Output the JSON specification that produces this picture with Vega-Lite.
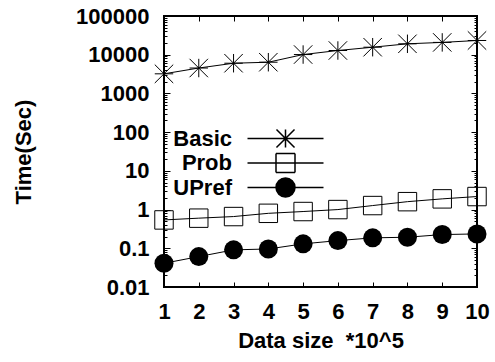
{
  "$schema": "https://vega.github.io/schema/vega-lite/v6.json",
  "width": 313,
  "height": 271,
  "autosize": {"type": "none"},
  "padding": {"left": 164, "top": 16, "right": 18, "bottom": 75},
  "config": {
    "view": {"stroke": "black", "strokeWidth": 2},
    "font": "Liberation Sans",
    "axis": {
      "grid": false,
      "domain": false,
      "labelFont": "Liberation Sans",
      "labelFontWeight": "bold",
      "labelFontSize": 22,
      "labelColor": "black",
      "titleFont": "Liberation Sans",
      "titleFontWeight": "bold",
      "titleFontSize": 22,
      "titleColor": "black",
      "tickColor": "black",
      "tickWidth": 1
    }
  },
  "datasets": {
    "runs": [
      {"size": 1, "method": "Basic", "time": 3210},
      {"size": 2, "method": "Basic", "time": 4530},
      {"size": 3, "method": "Basic", "time": 6030},
      {"size": 4, "method": "Basic", "time": 6400},
      {"size": 5, "method": "Basic", "time": 10100},
      {"size": 6, "method": "Basic", "time": 12840},
      {"size": 7, "method": "Basic", "time": 15630},
      {"size": 8, "method": "Basic", "time": 19130},
      {"size": 9, "method": "Basic", "time": 20800},
      {"size": 10, "method": "Basic", "time": 23300},
      {"size": 1, "method": "Prob", "time": 0.54},
      {"size": 2, "method": "Prob", "time": 0.6},
      {"size": 3, "method": "Prob", "time": 0.66},
      {"size": 4, "method": "Prob", "time": 0.8},
      {"size": 5, "method": "Prob", "time": 0.89},
      {"size": 6, "method": "Prob", "time": 1.0},
      {"size": 7, "method": "Prob", "time": 1.27},
      {"size": 8, "method": "Prob", "time": 1.6},
      {"size": 9, "method": "Prob", "time": 1.89},
      {"size": 10, "method": "Prob", "time": 2.17},
      {"size": 1, "method": "UPref", "time": 0.041},
      {"size": 2, "method": "UPref", "time": 0.061},
      {"size": 3, "method": "UPref", "time": 0.091},
      {"size": 4, "method": "UPref", "time": 0.096},
      {"size": 5, "method": "UPref", "time": 0.13},
      {"size": 6, "method": "UPref", "time": 0.158},
      {"size": 7, "method": "UPref", "time": 0.186},
      {"size": 8, "method": "UPref", "time": 0.193},
      {"size": 9, "method": "UPref", "time": 0.226},
      {"size": 10, "method": "UPref", "time": 0.235}
    ]
  },
  "data": {"name": "runs"},
  "layer": [
    {
      "mark": {"type": "line", "color": "black", "strokeWidth": 1},
      "encoding": {
        "x": {
          "field": "size", "type": "quantitative",
          "scale": {"domain": [1, 10], "nice": false, "zero": false},
          "axis": {
            "orient": "bottom", "values": [1, 2, 3, 4, 5, 6, 7, 8, 9, 10],
            "ticks": false, "labelPadding": 14, "labelFlush": false,
            "title": "Data size\u00a0 *10^5", "titleY": 60, "titleBaseline": "alphabetic"
          }
        },
        "y": {
          "field": "time", "type": "quantitative",
          "scale": {"type": "log", "domain": [0.01, 100000], "nice": false},
          "axis": {
            "orient": "left",
            "values": [0.01, 0.1, 1, 10, 100, 1000, 10000, 100000],
            "format": "~r", "ticks": false, "labelPadding": 15,
            "title": "Time(Sec)", "titleX": -134, "titleY": 135.5,
            "titleAngle": -90, "titleAlign": "center", "titleBaseline": "alphabetic"
          }
        },
        "detail": {"field": "method"}
      }
    },
    {
      "transform": [{"filter": "datum.method !== 'UPref'"}],
      "mark": {"type": "point", "filled": false, "stroke": "black", "strokeWidth": 1, "size": 340, "opacity": 1},
      "encoding": {
        "x": {
          "field": "size", "type": "quantitative",
          "axis": {"orient": "bottom", "values": [1, 2, 3, 4, 5, 6, 7, 8, 9, 10], "labelExpr": "''", "tickSize": -5, "title": null}
        },
        "y": {
          "field": "time", "type": "quantitative",
          "axis": {
            "orient": "left", "labelExpr": "''", "title": null, "tickSize": -6,
            "values": [0.01, 0.1, 1, 10, 100, 1000, 10000, 100000]
          }
        },
        "shape": {
          "field": "method", "type": "nominal",
          "scale": {"domain": ["Basic", "Prob"], "range": ["M-1,0H1M0,-1V1M-1,-1L1,1M-1,1L1,-1", "M-1,-1H1V1H-1Z"]},
          "legend": null
        }
      }
    },
    {
      "transform": [{"filter": "datum.method === 'UPref'"}],
      "mark": {"type": "point", "shape": "circle", "filled": true, "color": "black", "size": 361, "opacity": 1},
      "encoding": {
        "x": {
          "field": "size", "type": "quantitative",
          "axis": {"orient": "top", "values": [1, 2, 3, 4, 5, 6, 7, 8, 9, 10], "labelExpr": "''", "tickSize": -5, "title": null}
        },
        "y": {
          "field": "time", "type": "quantitative",
          "axis": {
            "orient": "right", "labelExpr": "''", "title": null, "tickSize": -6,
            "values": [0.01, 0.1, 1, 10, 100, 1000, 10000, 100000]
          }
        }
      }
    },
    {
      "transform": [{"filter": "datum.time < 0"}],
      "mark": {"type": "point", "filled": false, "color": "black", "strokeWidth": 1, "size": 361, "opacity": 1},
      "encoding": {
        "x": {"field": "size", "type": "quantitative", "axis": null},
        "y": {
          "field": "time", "type": "quantitative",
          "axis": {
            "orient": "left", "labelExpr": "''", "title": null, "tickSize": -3,
            "values": [0.02, 0.03, 0.04, 0.05, 0.06, 0.07, 0.08, 0.09,
                       0.2, 0.3, 0.4, 0.5, 0.6, 0.7, 0.8, 0.9,
                       2, 3, 4, 5, 6, 7, 8, 9,
                       20, 30, 40, 50, 60, 70, 80, 90,
                       200, 300, 400, 500, 600, 700, 800, 900,
                       2000, 3000, 4000, 5000, 6000, 7000, 8000, 9000,
                       20000, 30000, 40000, 50000, 60000, 70000, 80000, 90000]
          }
        },
        "shape": {
          "field": "method", "type": "nominal",
          "scale": {
            "domain": ["Basic", "Prob", "UPref"],
            "range": [
              "M-4,0H4M0,-0.95V0.95M-0.95,-0.95L0.95,0.95M-0.95,0.95L0.95,-0.95",
              "M-4,0H4M-1,-1H1M1,-1V1M1,1H-1M-1,1V-1",
              "M-4,0H4M1,0A1,1,0,1,1,-1,0A1,1,0,1,1,1,0M-0.32,-0.947H0.32M-0.539,-0.842H0.539M-0.676,-0.737H0.676M-0.775,-0.632H0.775M-0.85,-0.526H0.85M-0.907,-0.421H0.907M-0.949,-0.316H0.949M-0.978,-0.211H0.978M-0.994,-0.105H0.994M-0.994,0.105H0.994M-0.978,0.211H0.978M-0.949,0.316H0.949M-0.907,0.421H0.907M-0.85,0.526H0.85M-0.775,0.632H0.775M-0.676,0.737H0.676M-0.539,0.842H0.539M-0.32,0.947H0.32"
            ]
          },
          "legend": {
            "title": null, "orient": "none", "legendX": 110.5, "legendY": 111.5,
            "labelAlign": "right", "labelOffset": -64.5, "labelBaseline": "middle",
            "labelFont": "Liberation Sans", "labelFontWeight": "bold", "labelFontSize": 22, "labelColor": "black",
            "symbolSize": 361, "rowPadding": -1.5, "padding": 0,
            "encode": {
              "symbols": {"update": {"stroke": {"value": "black"}, "strokeWidth": {"value": 1}}}
            }
          }
        }
      }
    },
    {
      "transform": [{"filter": "datum.time < 0"}],
      "mark": {"type": "point", "opacity": 0},
      "encoding": {
        "x": {"field": "size", "type": "quantitative", "axis": null},
        "y": {
          "field": "time", "type": "quantitative",
          "axis": {
            "orient": "right", "labelExpr": "''", "title": null, "tickSize": -3,
            "values": [0.02, 0.03, 0.04, 0.05, 0.06, 0.07, 0.08, 0.09,
                       0.2, 0.3, 0.4, 0.5, 0.6, 0.7, 0.8, 0.9,
                       2, 3, 4, 5, 6, 7, 8, 9,
                       20, 30, 40, 50, 60, 70, 80, 90,
                       200, 300, 400, 500, 600, 700, 800, 900,
                       2000, 3000, 4000, 5000, 6000, 7000, 8000, 9000,
                       20000, 30000, 40000, 50000, 60000, 70000, 80000, 90000]
          }
        }
      }
    }
  ],
  "resolve": {
    "axis": {"x": "independent", "y": "independent"},
    "scale": {"shape": "independent"}
  }
}
